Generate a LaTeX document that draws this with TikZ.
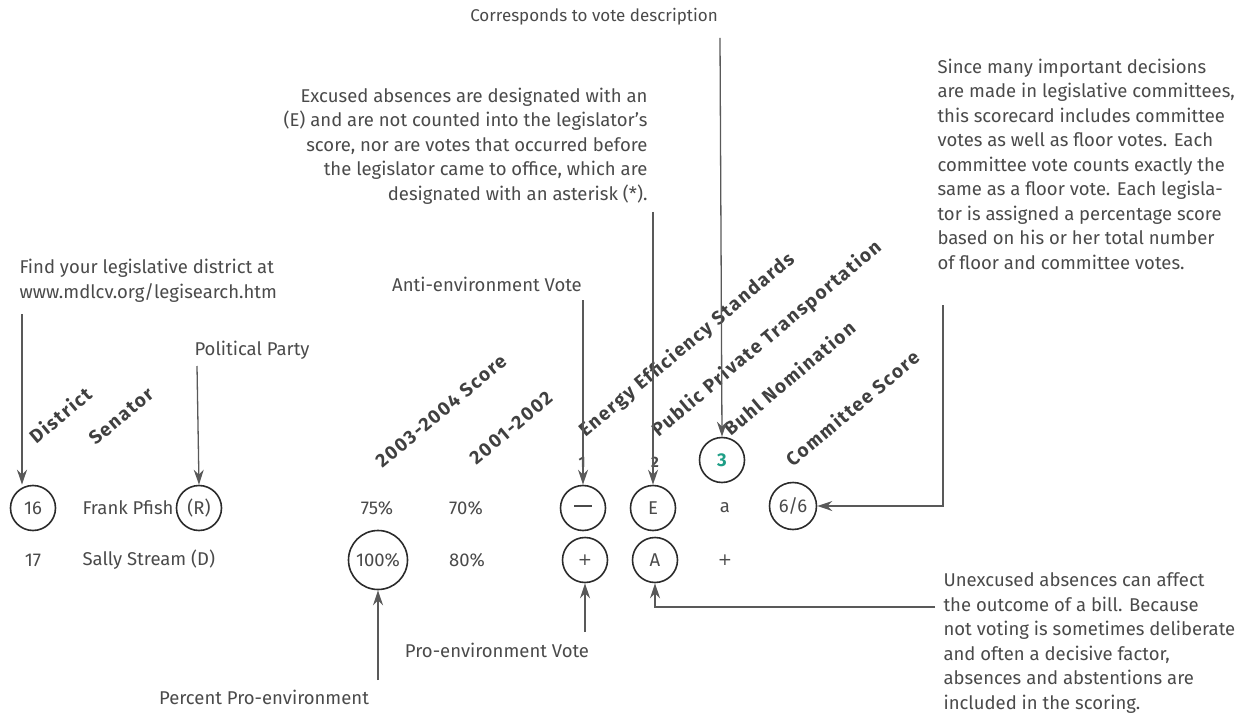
\documentclass[tikz,border=0pt]{standalone}
\usepackage{fontspec}
\setmainfont{Fira Sans}
\newfontfamily\plusfont{DejaVu Sans}
\usetikzlibrary{arrows.meta}
\definecolor{ink}{HTML}{4A4A4A}
\definecolor{ringc}{HTML}{2B2B2B}
\definecolor{tealnum}{HTML}{1E9E86}

\begin{document}
\begin{tikzpicture}[x=1pt, y=-1pt, font=\fontsize{18.5}{24.5}\selectfont, text=ink,
  ring/.style={circle, draw=ringc, line width=1.6pt, minimum size=45pt, inner sep=0pt},
  head/.style={rotate=40, font=\fontsize{19}{22}\selectfont\bfseries\addfontfeatures{LetterSpace=8}, text=black!75},
  arr/.style={draw=black!65, line width=1.3pt, -{Stealth[length=15pt,width=10pt]}}]
\useasboundingbox (0,0) rectangle (1255,727);

% notes
\node (corresp) at (594,17) [font=\fontsize{17}{20}\selectfont] {Corresponds to vote description};
\node (excused) at (651,146) [anchor=east, align=right] {Excused absences are designated with an\\(E) and are not counted into the legislator's\\score, nor are votes that occurred before\\the legislator came to office, which are\\designated with an asterisk (*).};
\node (find) at (16,281) [anchor=west, align=left] {Find your legislative district at\\www.mdlcv.org/legisearch.htm};
\node (party) at (191,350) [anchor=west] {Political Party};
\node (anti) at (487,284) {Anti-environment Vote};
\node (since) at (934,164) [anchor=west, align=left] {Since many important decisions\\are made in legislative committees,\\this scorecard includes committee\\votes as well as floor votes. Each\\committee vote counts exactly the\\same as a floor vote. Each legisla-\\tor is assigned a percentage score\\based on his or her total number\\of floor and committee votes.};
\node (unexc) at (940,643) [anchor=west, align=left] {Unexcused absences can affect\\the outcome of a bill. Because\\not voting is sometimes deliberate\\and often a decisive factor,\\absences and abstentions are\\included in the scoring.};
\node (pro) at (497,650) {Pro-environment Vote};
\node (percent) at (264,697) {Percent Pro-environment};

% column heads
\node (hdist) at (60,415) [head] {District};
\node (hsen) at (121,416) [head] {Senator};
\node (hscore) at (441,411) [head] {2003-2004 Score};
\node (hold) at (511,428) [head] {2001-2002};
\node (hvote1) at (687,345) [head] {Energy Efficiency Standards};
\node (hvote2) at (767,339) [head] {Public Private Transportation};
\node (hvote3) at (789,378) [head] {Buhl Nomination};
\node (hcomm) at (852,408) [head] {Committee Score};

% vote numbers
\node (n1) at (582,462) [font=\fontsize{15}{15}\selectfont\bfseries] {1};
\node (n2) at (655,462) [font=\fontsize{15}{15}\selectfont\bfseries] {2};
\node (n3) at (722,460) [ring] {\textcolor{tealnum}{\bfseries 3}};

% row 16
\node (d16) at (33,508) [ring] {16};
\node (frank) at (79,508) [anchor=west] {Frank Pfish};
\node (pR) at (199,508) [ring] {(R)};
\node (s75) at (377,508) {75\%};
\node (s70) at (466,508) {70\%};
\node (v1) at (583,508) [ring] {\rule[5pt]{18pt}{2pt}};
\node (vE) at (653,508) [ring] {E};
\node (va) at (725,508) {a};
\node (c66) at (793,506) [ring, minimum size=47pt] {6/6};

% row 17
\node (d17) at (33,560) {17};
\node (sally) at (79,560) [anchor=west] {Sally Stream (D)};
\node (p100) at (378,560) [ring, minimum size=59pt] {100\%};
\node (s80) at (467,560) {80\%};
\node (vP) at (585,560) [ring, font=\plusfont\fontsize{17}{17}\selectfont] {+};
\node (vA) at (655,560) [ring] {A};
\node (vplus) at (725,560) [font=\plusfont\fontsize{17}{17}\selectfont] {+};

% arrows
\coordinate (tfind) at (22,314);
\coordinate (tparty) at (197,366);
\coordinate (tanti) at (583,300);
\coordinate (texc) at (653,212);
\coordinate (tcorr) at (720,38);
\coordinate (tsince) at (943,305);
\coordinate (tunexc) at (935,607);
\coordinate (tpro) at (585,632);
\coordinate (tperc) at (378,680);

\draw [arr] (tfind) -- (tfind |- d16.north);
\draw [arr] (tparty) -- (pR.north);
\draw [arr] (tanti) -- (v1.north);
\draw [arr] (texc) -- (vE.north);
\draw [arr] (tcorr) -- (n3.north);
\draw [arr] (tsince) |- (c66.east);
\draw [arr] (tunexc) -| (vA.south);
\draw [arr] (tpro) -- (vP.south);
\draw [arr] (tperc) -- (p100.south);
\end{tikzpicture}
\end{document}
